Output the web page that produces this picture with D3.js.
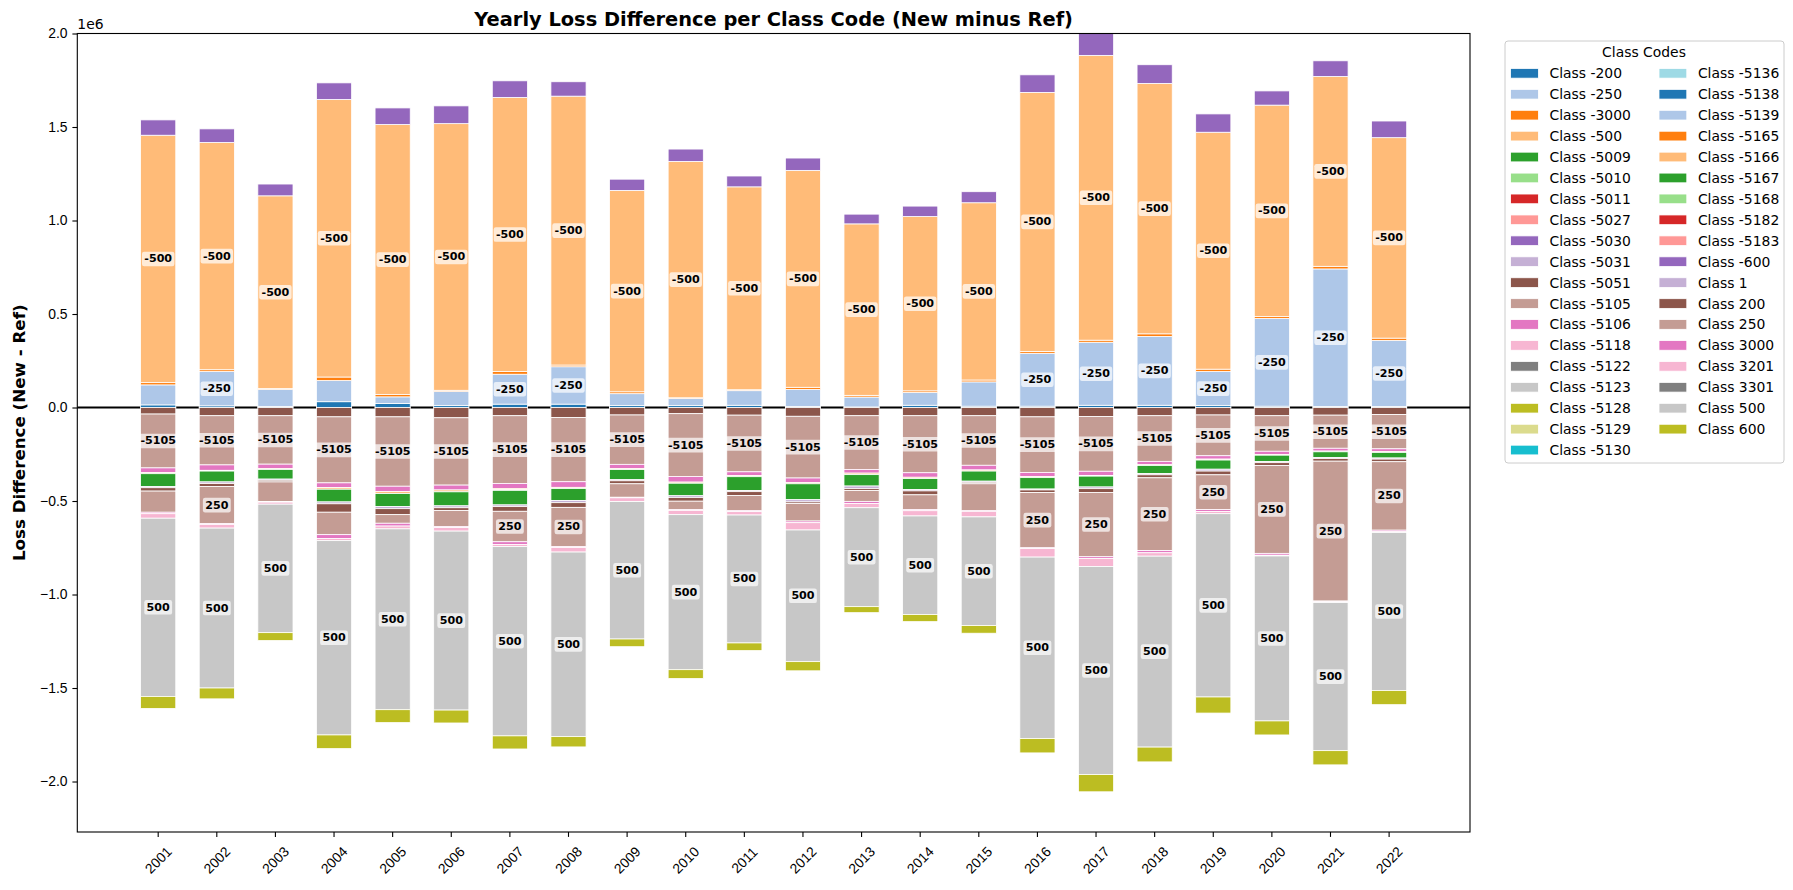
<!DOCTYPE html>
<html>
<head>
<meta charset="utf-8">
<script src="https://cdn.jsdelivr.net/npm/d3@7"></script>
<style>
  body { margin: 0; background: #fff; }
  svg { display: block; font-family: 'DejaVu Sans', sans-serif; }
</style>
</head>
<body>
<div id="chart"></div>
<script>
// values are in millions (axis offset 1e6)
const years = [2001, 2002, 2003, 2004, 2005, 2006, 2007, 2008, 2009, 2010, 2011,
  2012, 2013, 2014, 2015, 2016, 2017, 2018, 2019, 2020, 2021, 2022]

const classCodes = ['-200', '-250', '-3000', '-500', '-5009', '-5010', '-5011', '-5027',
  '-5030', '-5031', '-5051', '-5105', '-5106', '-5118', '-5122', '-5123', '-5128', '-5129',
  '-5130', '-5136', '-5138', '-5139', '-5165', '-5166', '-5167', '-5168', '-5182', '-5183',
  '-600', '1', '200', '250', '3000', '3201', '3301', '500', '600']

const yTicks = [-2.0, -1.5, -1.0, -0.5, 0.0, 0.5, 1.0, 1.5, 2.0]

// positive classes
const cM200 = [0.014, 0.009, 0.006, 0.031, 0.021, 0.010, 0.018, 0.018, 0.010, 0.010, 0.012,
  0.006, 0.003, 0.012, 0.007, 0.007, 0.012, 0.012, 0.010, 0.007, 0.005, 0.005]
const cM250 = [0.107, 0.183, 0.091, 0.113, 0.036, 0.075, 0.160, 0.200, 0.064, 0.038, 0.078,
  0.091, 0.053, 0.068, 0.130, 0.283, 0.337, 0.368, 0.182, 0.469, 0.736, 0.354]
const cM3000 = [0.012, 0.010, 0.004, 0.019, 0.012, 0.007, 0.014, 0.009, 0.010, 0.004, 0.005,
  0.011, 0.009, 0.009, 0.010, 0.010, 0.011, 0.014, 0.013, 0.010, 0.014, 0.012]
const cM500 = [1.323, 1.215, 1.031, 1.484, 1.444, 1.426, 1.466, 1.438, 1.077, 1.264, 1.085,
  1.160, 0.917, 0.932, 0.948, 1.385, 1.523, 1.339, 1.267, 1.131, 1.015, 1.072]
const cM600 = [0.082, 0.073, 0.063, 0.089, 0.089, 0.095, 0.089, 0.077, 0.060, 0.066, 0.058,
  0.066, 0.052, 0.056, 0.059, 0.094, 0.125, 0.100, 0.098, 0.076, 0.084, 0.089]

// negative classes
const cM5051 = [-0.035, -0.044, -0.044, -0.050, -0.050, -0.055, -0.044, -0.054, -0.040, -0.033, -0.041,
  -0.047, -0.044, -0.044, -0.044, -0.050, -0.048, -0.044, -0.040, -0.044, -0.041, -0.038]
const cM5105 = [-0.288, -0.263, -0.259, -0.353, -0.371, -0.360, -0.362, -0.343, -0.264, -0.336, -0.303,
  -0.330, -0.287, -0.305, -0.265, -0.297, -0.293, -0.244, -0.218, -0.190, -0.177, -0.183]
const cM5106 = [-0.025, -0.029, -0.023, -0.025, -0.029, -0.026, -0.027, -0.030, -0.022, -0.030, -0.020,
  -0.024, -0.020, -0.024, -0.025, -0.022, -0.022, -0.018, -0.018, -0.018, -0.015, -0.015]
const cM5165 = [0, 0, 0, 0, 0, 0, -0.006, 0, 0, 0, 0,
  0, 0, 0, 0, 0, 0, 0, 0, 0, 0, 0]
const cM5166 = [-0.006, -0.004, -0.005, -0.009, -0.010, -0.010, -0.004, -0.006, -0.006, -0.006, -0.006,
  -0.007, -0.008, -0.007, -0.006, -0.006, -0.004, -0.004, -0.005, -0.003, -0.004, -0.004]
const cM5167 = [-0.068, -0.058, -0.052, -0.068, -0.069, -0.075, -0.078, -0.064, -0.054, -0.067, -0.074,
  -0.085, -0.061, -0.059, -0.054, -0.061, -0.058, -0.043, -0.049, -0.034, -0.030, -0.030]
const c1 = [-0.007, -0.009, -0.006, -0.010, -0.012, -0.010, -0.009, -0.012, -0.006, -0.009, -0.006,
  -0.012, -0.014, -0.007, -0.006, -0.005, -0.009, -0.007, -0.010, -0.006, -0.006, -0.006]
const c200 = [-0.018, -0.016, -0.009, -0.045, -0.032, -0.015, -0.025, -0.025, -0.016, -0.020, -0.021,
  -0.008, -0.010, -0.021, -0.008, -0.014, -0.020, -0.016, -0.020, -0.015, -0.014, -0.014]
const c250 = [-0.113, -0.198, -0.105, -0.120, -0.046, -0.085, -0.163, -0.210, -0.072, -0.045, -0.081,
  -0.094, -0.058, -0.078, -0.144, -0.295, -0.344, -0.389, -0.186, -0.470, -0.748, -0.366]
const c3000 = [-0.008, -0.004, -0.003, -0.020, -0.015, -0.006, -0.014, -0.004, -0.003, -0.004, -0.005,
  -0.009, -0.011, -0.007, -0.003, -0.004, -0.009, -0.012, -0.010, -0.010, -0.004, -0.008]
const c3201 = [-0.024, -0.020, -0.011, -0.012, -0.015, -0.019, -0.012, -0.025, -0.020, -0.023, -0.018,
  -0.039, -0.023, -0.028, -0.030, -0.046, -0.043, -0.018, -0.012, -0.004, -0.004, -0.004]
const c500 = [-0.953, -0.855, -0.687, -1.039, -0.967, -0.957, -1.012, -0.987, -0.735, -0.829, -0.684,
  -0.704, -0.529, -0.527, -0.581, -0.970, -1.113, -1.021, -0.980, -0.882, -0.792, -0.845]
const c600 = [-0.064, -0.058, -0.042, -0.073, -0.069, -0.069, -0.070, -0.055, -0.041, -0.047, -0.041,
  -0.049, -0.032, -0.038, -0.041, -0.077, -0.092, -0.079, -0.086, -0.075, -0.076, -0.076]

const classValues = new Map([
  ['-200', cM200], ['-250', cM250], ['-3000', cM3000], ['-500', cM500], ['-600', cM600],
  ['-5051', cM5051], ['-5105', cM5105], ['-5106', cM5106], ['-5165', cM5165],
  ['-5166', cM5166], ['-5167', cM5167], ['1', c1], ['200', c200], ['250', c250],
  ['3000', c3000], ['3201', c3201], ['500', c500], ['600', c600]
])

const tab20 = ['#1f77b4', '#aec7e8', '#ff7f0e', '#ffbb78', '#2ca02c', '#98df8a', '#d62728',
  '#ff9896', '#9467bd', '#c5b0d5', '#8c564b', '#c49c94', '#e377c2', '#f7b6d2', '#7f7f7f',
  '#c7c7c7', '#bcbd22', '#dbdb8d', '#17becf', '#9edae5']

const labelMin = 0.15

const W = 1793
const H = 890
const plot = { left: 77.3, right: 1470, top: 33.5, bottom: 832 }

function buildRows() {
  return years.map((year, i) => {
    const row = { year }
    classCodes.forEach(c => {
      const vals = classValues.get(c)
      row[c] = vals ? vals[i] : 0
    })
    return row
  })
}

function drawChart(selector) {
  const rows = buildRows()
  const color = d3.scaleOrdinal().domain(classCodes).range(classCodes.map((_, i) => tab20[i % 20]))

  const x = d3
    .scaleBand()
    .domain(years)
    .range([plot.left, plot.right])
    .paddingInner(0.4)
    .paddingOuter(1.08)

  const y = d3
    .scaleLinear()
    .domain([-2.27, 2.0])
    .range([plot.bottom, plot.top])

  const stacked = d3
    .stack()
    .keys(classCodes)
    .offset(d3.stackOffsetDiverging)(rows)

  const svg = d3
    .select(selector)
    .append('svg')
    .attr('width', W)
    .attr('height', H)
    .attr('viewBox', [0, 0, W, H])

  svg.append('rect').attr('width', W).attr('height', H).attr('fill', '#fff')

  svg
    .append('clipPath')
    .attr('id', 'plot-clip')
    .append('rect')
    .attr('x', plot.left)
    .attr('y', plot.top)
    .attr('width', plot.right - plot.left)
    .attr('height', plot.bottom - plot.top)

  // zero line sits behind the bars
  svg
    .append('line')
    .attr('x1', plot.left)
    .attr('x2', plot.right)
    .attr('y1', y(0))
    .attr('y2', y(0))
    .attr('stroke', '#000')
    .attr('stroke-width', 1.8)

  svg
    .append('g')
    .attr('clip-path', 'url(#plot-clip)')
    .selectAll('g')
    .data(stacked)
    .join('g')
    .attr('fill', d => color(d.key))
    .selectAll('rect')
    .data(d => d.filter(p => p[1] !== p[0]))
    .join('rect')
    .attr('x', d => x(d.data.year))
    .attr('width', x.bandwidth())
    .attr('y', d => y(Math.max(d[0], d[1])))
    .attr('height', d => Math.abs(y(d[0]) - y(d[1])))
    .attr('stroke', '#fff')
    .attr('stroke-width', 0.8)

  // value labels on the large segments
  const labels = svg.append('g').attr('font-size', 11.1).attr('font-weight', 'bold')
  stacked.forEach(series => {
    series.forEach(d => {
      const v = d.data[series.key]
      if (Math.abs(v) <= labelMin) return
      const cx = x(d.data.year) + x.bandwidth() / 2
      const cy = y((d[0] + d[1]) / 2)
      const g = labels.append('g').attr('transform', `translate(${cx},${cy})`)
      const box = g.append('rect')
      const t = g
        .append('text')
        .attr('text-anchor', 'middle')
        .attr('dominant-baseline', 'central')
        .attr('fill', '#000')
        .text(series.key)
      const w = t.node().getBBox().width + 4.4
      box
        .attr('x', -w / 2)
        .attr('y', -7.3)
        .attr('width', w)
        .attr('height', 14.6)
        .attr('rx', 2.2)
        .attr('fill', '#fff')
        .attr('fill-opacity', 0.7)
    })
  })

  // frame
  svg
    .append('rect')
    .attr('x', plot.left)
    .attr('y', plot.top)
    .attr('width', plot.right - plot.left)
    .attr('height', plot.bottom - plot.top)
    .attr('fill', 'none')
    .attr('stroke', '#000')
    .attr('stroke-width', 1.1)

  const yAxis = g =>
    g
      .attr('transform', `translate(${plot.left},0)`)
      .call(d3.axisLeft(y).tickValues(yTicks).tickFormat(d3.format('.1f')).tickSize(4.9).tickPadding(4.9))
      .call(g => g.select('.domain').remove())
      .call(g => g.selectAll('line').attr('stroke-width', 1.1))
      .call(g => g.selectAll('text').attr('font-size', 13.9).attr('fill', '#000'))

  const xAxis = g =>
    g
      .attr('transform', `translate(0,${plot.bottom})`)
      .call(d3.axisBottom(x).tickSize(4.9))
      .call(g => g.select('.domain').remove())
      .call(g => g.selectAll('line').attr('stroke-width', 1.1))
      .call(g =>
        g
          .selectAll('text')
          .attr('y', 0)
          .attr('dy', null)
          .attr('font-size', 13.9)
          .attr('fill', '#000')
          .attr('text-anchor', 'middle')
          .attr('dominant-baseline', 'central')
          .attr('transform', 'translate(0,28) rotate(-45)')
      )

  svg.append('g').call(yAxis)
  svg.append('g').call(xAxis)

  svg
    .append('text')
    .attr('x', plot.left)
    .attr('y', 29.3)
    .attr('font-size', 13.9)
    .text('1e6')

  svg
    .append('text')
    .attr('x', (plot.left + plot.right) / 2)
    .attr('y', 25.5)
    .attr('text-anchor', 'middle')
    .attr('font-size', 19.4)
    .attr('font-weight', 'bold')
    .text('Yearly Loss Difference per Class Code (New minus Ref)')

  svg
    .append('text')
    .attr('transform', `translate(24.5,${(plot.top + plot.bottom) / 2}) rotate(-90)`)
    .attr('text-anchor', 'middle')
    .attr('font-size', 16.7)
    .attr('font-weight', 'bold')
    .text('Loss Difference (New - Ref)')

  drawLegend(svg, color)
}

function drawLegend(svg, color) {
  const perCol = Math.ceil(classCodes.length / 2)
  const colX = [1510.6, 1659]
  const g = svg.append('g').attr('font-size', 13.9)

  g.append('rect')
    .attr('x', 1505)
    .attr('y', 41)
    .attr('width', 279)
    .attr('height', 422)
    .attr('rx', 3)
    .attr('fill', '#fff')
    .attr('fill-opacity', 0.8)
    .attr('stroke', '#cccccc')

  g.append('text')
    .attr('x', 1644)
    .attr('y', 52.3)
    .attr('text-anchor', 'middle')
    .attr('dominant-baseline', 'central')
    .text('Class Codes')

  const items = g
    .selectAll('g.item')
    .data(classCodes)
    .join('g')
    .attr('class', 'item')
    .attr('transform', (_, i) => `translate(${colX[Math.floor(i / perCol)]},${73.3 + (i % perCol) * 20.93})`)

  items
    .append('rect')
    .attr('x', 0)
    .attr('y', -4.85)
    .attr('width', 27.8)
    .attr('height', 9.7)
    .attr('fill', d => color(d))
    .attr('stroke', '#fff')
    .attr('stroke-width', 0.8)

  items
    .append('text')
    .attr('x', 38.9)
    .attr('dominant-baseline', 'central')
    .text(d => `Class ${d}`)
}

drawChart('#chart')
</script>
</body>
</html>
